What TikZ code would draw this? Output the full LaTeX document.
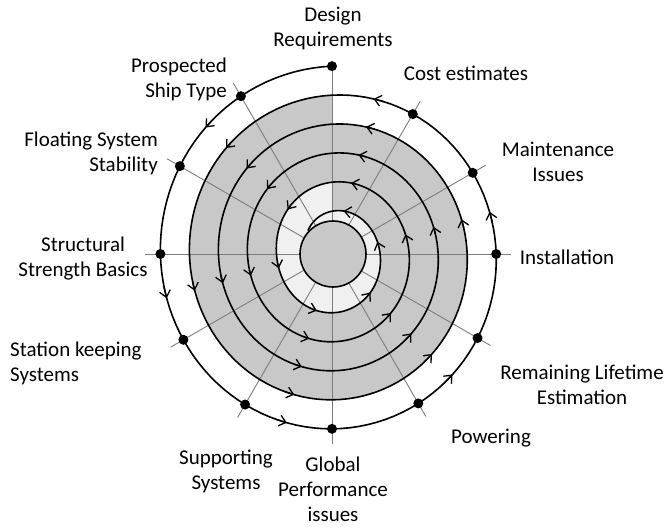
\documentclass[tikz,border=0pt]{standalone}
\usepackage{fontspec}
\setmainfont{Carlito}
\usetikzlibrary{arrows.meta}
\definecolor{shadedark}{RGB}{200,200,200}
\definecolor{shadelight}{RGB}{240,240,240}
\definecolor{spokegray}{RGB}{125,125,125}
\begin{document}
\begin{tikzpicture}[x=1pt,y=-1pt,
  declare function={sr(\t)=192.75-0.0806*\t+3.55*cos(\t)-0.75*sin(\t)-3.1*cos(2*\t);},
  spiral/.style={line width=1.6pt, line join=round, line cap=round},
  spoke/.style={draw=spokegray, line width=0.9pt},
  dot/.style={circle, fill=black, inner sep=0pt, minimum size=10pt},
  lbl/.style={font=\fontsize{21}{25}\selectfont, inner sep=0pt},
  barb/.style={-{Straight Barb[length=6.5pt,width=11pt,line width=1.3pt]}, line width=1.3pt}
]
\useasboundingbox (0,0) rectangle (668,529);

\begin{scope}[shift={(332,254)}, yscale=-1]
  % shaded turn of the spiral, closed at the top
  \fill[shadedark] plot[domain=450:810, samples=121, variable=\t]
    ({sr(\t)*cos(\t)},{sr(\t)*sin(\t)}) -- cycle;
  % pale innermost turn
  \fill[shadelight] plot[domain=1530:1890, samples=121, variable=\t]
    ({sr(\t)*cos(\t)},{sr(\t)*sin(\t)}) -- cycle;
  % radial spokes
  \foreach \a in {0,30,...,330} {
    \pgfmathsetmacro\tt{\a<90 ? \a+360 : \a}
    \pgfmathsetmacro\re{sr(\tt)+(\a==90 ? 0 : 15)}
    \draw[spoke] (\a:33) -- (\a:\re);
  }
  % central disc
  \filldraw[fill=shadedark, draw=black, line width=1.6pt] (1,0) circle (33);
  % the spiral
  \draw[spiral] plot[domain=90:1935, samples=616, variable=\t]
    ({sr(\t)*cos(\t)},{sr(\t)*sin(\t)});
  % direction marks
  \foreach \a in {135,195,...,1875}
    \draw[barb] plot[domain=\a-4:\a, samples=3, variable=\t]
      ({sr(\t)*cos(\t)},{sr(\t)*sin(\t)});
  % stage markers
  \foreach \a in {90,120,...,420}
    \node[dot] (dot\a) at ({sr(\a)*cos(\a)},{sr(\a)*sin(\a)}) {};
\end{scope}

\node[lbl, align=center] (design) at (333,28) {Design\\Requirements};
\node[lbl] (cost) at (466,73) {Cost estimates};
\node[lbl, align=center] (maint) at (558,162) {Maintenance\\Issues};
\node[lbl] (install) at (567,257) {Installation};
\node[lbl, align=center] (remain) at (582,385) {Remaining Lifetime\\Estimation};
\node[lbl] (power) at (491,438) {Powering};
\node[lbl, align=center] (global) at (333,489) {Global\\Performance\\issues};
\node[lbl, align=center] (support) at (226,471) {Supporting\\Systems};
\node[lbl, align=left, anchor=west] (station) at (10,363) {Station keeping\\Systems};
\node[lbl, align=center] (struct) at (83,259) {Structural\\Strength Basics};
\node[lbl, align=right, anchor=east] (float) at (158,153) {Floating System\\Stability};
\node[lbl, align=right, anchor=east] (prosp) at (227,79) {Prospected\\Ship Type};
\end{tikzpicture}
\end{document}
